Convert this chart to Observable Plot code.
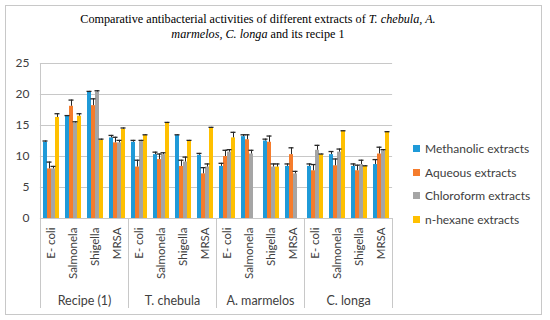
<!DOCTYPE html>
<html>
<head>
<meta charset="utf-8">
<script src="https://cdn.jsdelivr.net/npm/d3@7"></script>
<script src="https://cdn.jsdelivr.net/npm/@observablehq/plot@0.6"></script>
<style>
  html, body { margin: 0; padding: 0; background: #fff; }
  #wrap { position: relative; width: 550px; height: 320px; overflow: hidden; }
  #border { position: absolute; left: 5px; top: 5px; width: 537px; height: 310px; border: 1px solid #c8c8c8; box-sizing: border-box; }
  #title { position: absolute; left: 0; top: 12px; width: 516px; text-align: center;
    font-family: "Liberation Serif", "Times New Roman", serif; font-size: 12.2px; line-height: 14.5px; color: #000; }
  #legend { position: absolute; left: 413px; top: 137px; font-family: Lato, sans-serif; font-size: 12px; color: #404040; }
  #legend .item { height: 23.5px; display: flex; align-items: center; white-space: nowrap; }
  #legend .sw { width: 7px; height: 7px; margin-right: 5px; }
  #chart { position: absolute; left: 0; top: 0; }
</style>
</head>
<body>
<div id="wrap">
  <div id="border"></div>
  <div id="title">Comparative antibacterial activities of different extracts of <i>T. chebula, A.<br>marmelos, C. longa</i> and its recipe 1</div>
  <div id="chart"></div>
  <div id="legend"></div>
</div>
<script>
const groups = ["Recipe (1)", "T. chebula", "A. marmelos", "C. longa"];
const organisms = ["E- coli", "Salmonela", "Shigella", "MRSA"];
const series = ["Methanolic extracts", "Aqueous extracts", "Chloroform extracts", "n-hexane extracts"];
const colors = ["#1f9ad8", "#f57c2c", "#a5a5a5", "#ffc000"];
const yTicks = [0, 5, 10, 15, 20, 25];

// values in group order (Recipe, T. chebula, A. marmelos, C. longa) x organism order
const methanolic = [12.3, 16.5, 20.4, 13.0,  12.3, 10.3, 13.4, 10.2,  8.4, 13.2, 12.5, 8.4,  8.4, 10.3, 8.4, 8.7];
const aqueous    = [8.0, 18.1, 18.2, 12.2,   8.3, 9.5, 8.4, 7.2,     10.0, 12.7, 12.3, 10.3, 7.7, 8.5, 7.7, 10.4];
const chloroform = [8.0, 15.4, 20.4, 12.2,   12.4, 10.3, 9.1, 8.3,   10.7, 10.4, 8.3, 7.2,   11.0, 10.7, 8.7, 10.9];
const hexane     = [16.3, 16.5, 12.6, 14.4,  13.4, 15.4, 12.5, 14.6, 13.0, null, 8.3, null,  10.3, 14.1, 8.4, 13.9];

const methanolicErr = [0.2, 0.1, 0.1, 0.4,  0.3, 0.4, 0.1, 0.3,  0.5, 0.3, 0.3, 0.4,  0.4, 0.5, 0.4, 0.8];
const aqueousErr    = [1.1, 1.0, 1.1, 0.9,  1.1, 0.9, 1.0, 1.0,  1.0, 0.8, 1.0, 1.1,  1.0, 1.1, 0.9, 1.1];
const chloroformErr = [0.4, 0.2, 0.2, 0.4,  0.2, 0.3, 0.8, 0.5,  0.4, 0.6, 0.5, 0.4,  0.8, 0.5, 0.7, 0.2];
const hexaneErr     = [0.6, 0.4, 0.2, 0.2,  0.1, 0.1, 0.1, 0.1,  0.9, null, 0.5, null, 0.1, 0.05, 0.1, 0.1];

const values = [methanolic, aqueous, chloroform, hexane];
const errors = [methanolicErr, aqueousErr, chloroformErr, hexaneErr];
const keys = groups.flatMap(g => organisms.map(o => g + "|" + o));

const rows = [];
series.forEach((s, si) => keys.forEach((k, ki) => {
  const v = values[si][ki];
  if (v != null) rows.push({key: k, series: s, value: v, top: v + errors[si][ki]});
}));

const sepStart = groups.map((g, gi) => ({key: keys[gi * 4], series: series[0]}));
const sepEnd = [{key: keys[keys.length - 1], series: series[series.length - 1]}];
const groupLabels = groups.map((g, gi) => ({key: keys[gi * 4 + 1], series: series[series.length - 1], label: g}));

const grid = "#c8c8c8";
const chart = Plot.plot({
  width: 550,
  height: 320,
  marginLeft: 40,
  marginRight: 157,
  marginTop: 63,
  marginBottom: 102,
  style: {fontFamily: "Lato, sans-serif", fontSize: "11.5px", color: "#404040", background: "transparent", overflow: "visible"},
  fx: {domain: keys, paddingInner: 0.27, paddingOuter: 0.135, axis: null, label: null},
  x: {domain: series, padding: 0, axis: null},
  y: {domain: [0, 25], axis: null},
  color: {domain: series, range: colors},
  marks: [
    Plot.ruleY(yTicks, {stroke: grid, strokeWidth: 1, insetLeft: -3.1, insetRight: -3.1}),
    Plot.ruleX(sepStart.slice(0, 1), {fx: "key", x: "series", y1: 0, y2: 25, dx: -5, stroke: grid}),
    Plot.barY(rows, {fx: "key", x: "series", y: "value", fill: "series"}),
    Plot.ruleX(rows, {fx: "key", x: "series", y1: "value", y2: "top", stroke: "#262626", strokeWidth: 1}),
    Plot.tickY(rows, {fx: "key", x: "series", y: "top", stroke: "#262626", strokeWidth: 1.3, insetLeft: -0.5, insetRight: -0.5}),
    Plot.axisY({ticks: yTicks, tickSize: 0, tickPadding: 14, label: null, fontSize: "12px"}),
    Plot.axisFx({anchor: "bottom", tickRotate: -90, tickSize: 0, tickPadding: 9, label: null,
      tickFormat: k => k.split("|")[1]}),
    Plot.ruleX(sepStart, {fx: "key", x: "series", y1: 0, y2: 0, insetBottom: -90, dx: -5, stroke: grid}),
    Plot.ruleX(sepEnd, {fx: "key", x: "series", y1: 0, y2: 0, insetBottom: -90, dx: 5, stroke: grid}),
    Plot.text(groupLabels, {fx: "key", x: "series", y: 0, text: "label", dx: 5, dy: 82, fontSize: 12.5, fill: "#404040"})
  ]
});
document.getElementById("chart").appendChild(chart);

const legend = document.getElementById("legend");
series.forEach((s, i) => {
  const item = document.createElement("div");
  item.className = "item";
  const sw = document.createElement("span");
  sw.className = "sw";
  sw.style.background = colors[i];
  const t = document.createElement("span");
  t.textContent = s;
  item.appendChild(sw);
  item.appendChild(t);
  legend.appendChild(item);
});
</script>
</body>
</html>
